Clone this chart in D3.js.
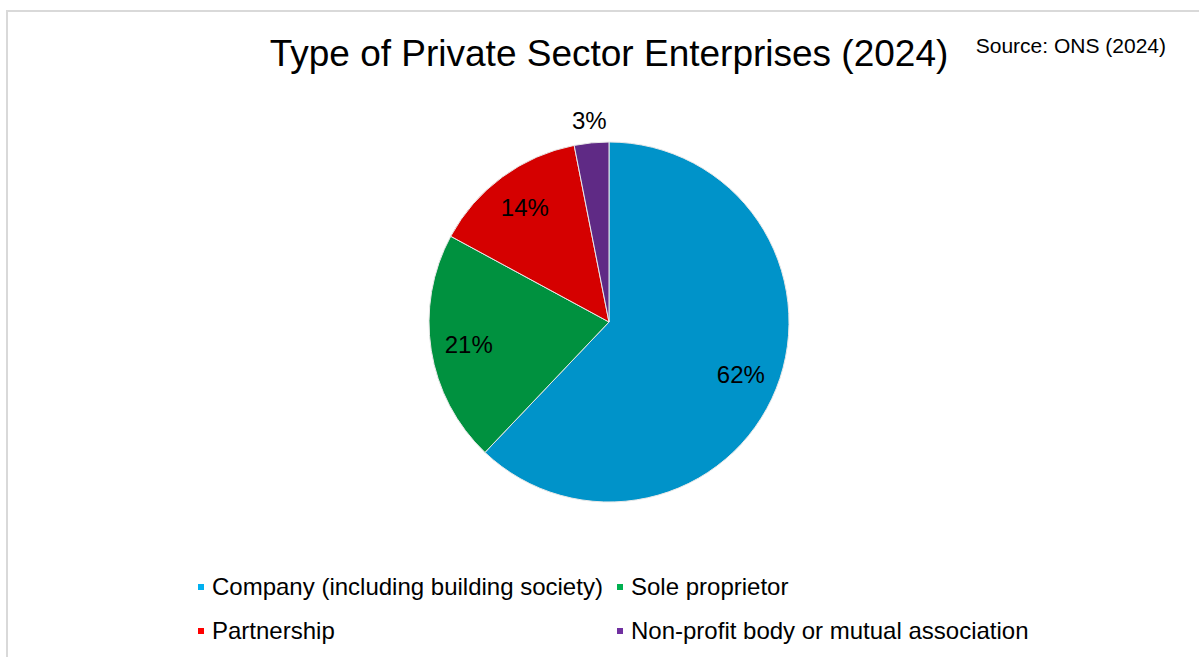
<!DOCTYPE html>
<html>
<head>
<meta charset="utf-8">
<script src="https://cdn.jsdelivr.net/npm/d3@7"></script>
<style>
  body { margin: 0; background: #fff; }
  svg { display: block; font-family: "Liberation Sans", Arial, sans-serif; }
</style>
</head>
<body>
<div id="plotholder"></div>
<script>
// enterprise types, share of private sector enterprises (%)
const CATEGORIES = [
  'Company (including building society)',
  'Sole proprietor',
  'Partnership',
  'Non-profit body or mutual association',
]
const SHARES = [62.1, 20.8, 14.0, 3.1]
const LABELS = ['62%', '21%', '14%', '3%']

const SLICE_COLOURS = ['#0093c9', '#00913f', '#d50000', '#5f2a85']
const LEGEND_COLOURS = ['#00b0f0', '#00b050', '#ff0000', '#7030a0']

const width = 1199
const height = 657

const svg = d3.select('#plotholder').append('svg')
  .attr('width', width)
  .attr('height', height)

// chart area frame (runs off the right and bottom of the picture)
svg.append('path')
  .attr('d', `M7,${height} V11 H${width}`)
  .attr('fill', 'none')
  .attr('stroke', '#d9d9d9')
  .attr('stroke-width', 2)

svg.append('text')
  .attr('x', 609)
  .attr('y', 66)
  .attr('text-anchor', 'middle')
  .attr('font-size', 37)
  .attr('fill', '#000')
  .text('Type of Private Sector Enterprises (2024)')

svg.append('text')
  .attr('x', 1166)
  .attr('y', 53)
  .attr('text-anchor', 'end')
  .attr('font-size', 21)
  .attr('fill', '#000')
  .text('Source: ONS (2024)')

// pie
const radius = 180
const pieg = svg.append('g').attr('transform', 'translate(609,322)')

const pie = d3.pie().sort(null).value(d => d)
const arcs = pie(SHARES)
const arc = d3.arc().innerRadius(0).outerRadius(radius)

pieg.selectAll('path')
  .data(arcs)
  .enter()
  .append('path')
  .attr('d', arc)
  .attr('fill', (d, i) => SLICE_COLOURS[i])
  .attr('stroke', '#e8e8e8')
  .attr('stroke-width', 1)

// small slices get their label outside the pie
const inner = d3.arc().innerRadius(142).outerRadius(142)
const outer = d3.arc().innerRadius(radius + 22).outerRadius(radius + 22)

pieg.selectAll('text.lbl')
  .data(arcs)
  .enter()
  .append('text')
  .attr('class', 'lbl')
  .attr('transform', d => {
    const a = d.value < 5 ? outer : inner
    return `translate(${a.centroid(d)})`
  })
  .attr('text-anchor', 'middle')
  .attr('dy', '0.35em')
  .attr('font-size', 24)
  .attr('fill', '#000')
  .text((d, i) => LABELS[i])

// legend, two per row
const legendX = d3.scalePoint().domain([0, 1]).range([198, 617])
const legendY = d3.scalePoint().domain([0, 1]).range([587, 631])

const items = svg.selectAll('g.legend')
  .data(CATEGORIES)
  .enter()
  .append('g')
  .attr('class', 'legend')
  .attr('transform', (d, i) => `translate(${legendX(i % 2)},${legendY(Math.floor(i / 2))})`)

items.append('rect')
  .attr('x', 0)
  .attr('y', -3)
  .attr('width', 6)
  .attr('height', 6)
  .attr('fill', (d, i) => LEGEND_COLOURS[i])

items.append('text')
  .attr('x', 14)
  .attr('dy', '0.35em')
  .attr('font-size', 24)
  .attr('fill', '#000')
  .text(d => d)
</script>
</body>
</html>
